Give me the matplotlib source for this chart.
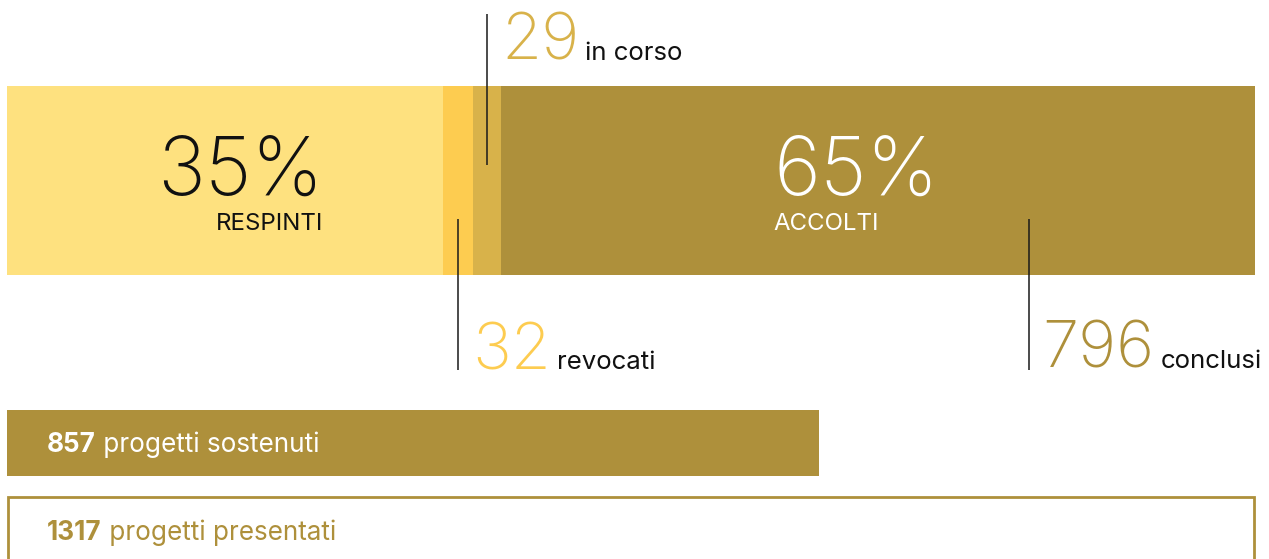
import matplotlib.pyplot as plt
import matplotlib.transforms as mtransforms
from matplotlib.patches import Rectangle

# project outcomes
segments = ["respinti", "revocati", "in corso", "conclusi"]
counts = [460, 32, 29, 796]
colors = ["#FEE17F", "#FDCC50", "#D8B24A", "#AE903B"]
pct_labels = ["35%", "65%"]
pct_names = ["RESPINTI", "ACCOLTI"]
supported = 857
presented = 1317

GOLD = "#AE903B"
FONT = "Inter"

W, H = 1269, 559
fig = plt.figure(figsize=(W / 100, H / 100), dpi=100)
ax = fig.add_axes([7 / W, 0, 1248 / W, 1])
ax.set_xlim(0, presented)
ax.set_ylim(H, 0)
ax.axis("off")

# stacked bar
lefts = []
left = 0
for n, c in zip(counts, colors):
    ax.barh(180.5, n, left=left, height=189, color=c, linewidth=0)
    lefts.append(left)
    left += n

def px(dx):
    return mtransforms.offset_copy(ax.transData, fig=fig, x=dx, y=0, units="dots")

fig.canvas.draw()
renderer = fig.canvas.get_renderer()

def right_edge(t):
    bb = t.get_window_extent(renderer)
    return ax.transData.inverted().transform((bb.x1, 0))[0]

def callout(xc, y0, y1, num, color, label, base):
    ax.plot([xc, xc], [y0, y1], color="#1a1a1a", lw=1.1, solid_capstyle="butt")
    t = ax.text(xc, base, str(num), transform=px(14), fontsize=47, color=color,
                family=FONT, weight="light", va="baseline", ha="left")
    ax.text(right_edge(t), base, label, transform=px(6), fontsize=18.6,
            color="#111111", family=FONT, va="baseline", ha="left")

# in corso above, revocati and conclusi below
callout(lefts[2] + counts[2] / 2, 14, 165, counts[2], colors[2], segments[2], 60)
callout(lefts[1] + counts[1] / 2, 219, 370, counts[1], colors[1], segments[1], 369)
callout(lefts[3] + counts[3] * 0.7, 219, 370, counts[3], colors[3], segments[3], 368)

# percentage labels
resp_x = lefts[0] + counts[0] * 0.725
ax.text(resp_x, 195, pct_labels[0], fontsize=58, family=FONT, weight="light",
        color="#111111", ha="right", va="baseline")
ax.text(resp_x, 230, pct_names[0], fontsize=17.3, family=FONT,
        color="#111111", ha="right", va="baseline")
acc_x = lefts[1] + sum(counts[1:]) * 0.407
ax.text(acc_x, 195, pct_labels[1], fontsize=58, family=FONT, weight="light",
        color="white", ha="left", va="baseline")
ax.text(acc_x, 230, pct_names[1], fontsize=17.3, family=FONT,
        color="white", ha="left", va="baseline")

# totals
ax.barh(443, supported, left=0, height=66, color=GOLD, linewidth=0)
ax.add_patch(Rectangle((1, 497), presented - 2, 80, facecolor="white",
                       edgecolor=GOLD, linewidth=2, clip_on=False))

def total_label(y, num, text, color):
    t = ax.text(0, y, str(num), transform=px(40), fontsize=18.8, family=FONT,
                weight="bold", color=color, va="baseline", ha="left")
    fig.canvas.draw()
    ax.text(right_edge(t), y, " " + text, transform=px(0), fontsize=18.8,
            family=FONT, color=color, va="baseline", ha="left")

total_label(452, supported, "progetti sostenuti", "white")
total_label(540, presented, "progetti presentati", GOLD)

fig.savefig("out.png", dpi=100)
